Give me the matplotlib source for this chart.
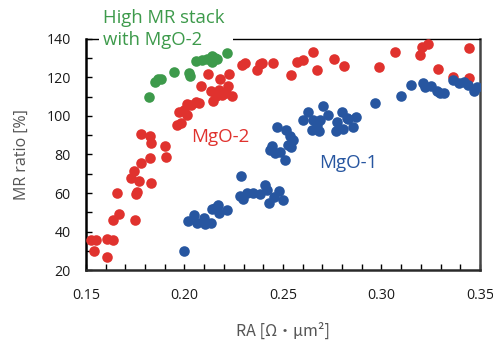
import matplotlib
matplotlib.use("Agg")
import matplotlib.pyplot as plt
from matplotlib.ticker import MultipleLocator
from matplotlib.patches import Rectangle

plt.rcParams['font.family'] = ['Open Sans', 'Noto Sans CJK JP', 'DejaVu Sans']

# ---- data ----
green_ra = [0.1820, 0.1850, 0.1868, 0.1881, 0.1947, 0.2025, 0.2030, 0.2058, 0.2089,
            0.2114, 0.2138, 0.2155, 0.2140, 0.2167, 0.2216]
green_mr = [110.1, 117.9, 119.0, 119.4, 122.6, 122.2, 120.8, 128.6, 129.1,
            129.4, 131.2, 130.1, 128.3, 129.4, 132.7]

red_ra = [0.1527, 0.1549, 0.1541, 0.1605, 0.1639, 0.1608, 0.1639, 0.1668, 0.1659,
          0.1747, 0.1727, 0.1744, 0.1769, 0.1752, 0.1760, 0.1828, 0.1781, 0.1825,
          0.1905, 0.1901, 0.1778, 0.1825, 0.1828,
          0.1960, 0.1980, 0.1972, 0.1997, 0.2014, 0.2034, 0.2057, 0.2074, 0.2011,
          0.2085, 0.2119, 0.2133, 0.2143, 0.2158, 0.2180, 0.2175, 0.2192, 0.2209,
          0.2226, 0.2221, 0.2240, 0.2163,
          0.2290, 0.2307, 0.2366, 0.2383, 0.2392, 0.2448, 0.2539, 0.2570, 0.2603,
          0.2651, 0.2671, 0.2759, 0.2810, 0.2989, 0.3068, 0.3195, 0.3204, 0.3238,
          0.3288, 0.3361, 0.3446, 0.3446]
red_mr = [35.6, 35.6, 30.0, 35.9, 35.6, 26.9, 46.0, 48.9, 59.8,
          46.0, 67.7, 71.2, 66.0, 59.5, 60.7, 65.4, 75.7, 78.4,
          78.9, 84.4, 90.5, 89.6, 85.8,
          95.2, 96.4, 102.1, 103.3, 106.2, 105.9, 107.3, 106.6, 100.5,
          115.4, 121.6, 112.8, 107.9, 110.2, 119.4, 113.7, 111.1, 112.0,
          121.6, 115.4, 110.2, 110.9,
          126.5, 127.7, 123.7, 127.0, 127.7, 127.4, 121.3, 128.2, 129.1,
          133.4, 123.7, 129.5, 126.0, 125.6, 133.4, 131.7, 135.7, 137.6,
          124.3, 120.1, 135.2, 119.6]

blue_ra = [0.1997, 0.2018, 0.2048, 0.2062, 0.2099, 0.2103, 0.2133, 0.2141, 0.2167,
           0.2175, 0.2217, 0.2155, 0.2171,
           0.2285, 0.2282, 0.2295, 0.2316, 0.2346, 0.2383, 0.2409, 0.2417, 0.2430,
           0.2454, 0.2481, 0.2498,
           0.2434, 0.2459, 0.2485, 0.2510, 0.2527, 0.2443, 0.2468, 0.2515, 0.2535,
           0.2552, 0.2542,
           0.2600, 0.2629, 0.2646, 0.2654, 0.2688, 0.2701, 0.2729, 0.2683, 0.2671,
           0.2769, 0.2772, 0.2798, 0.2806, 0.2832, 0.2857, 0.2871, 0.2827,
           0.2967, 0.3097, 0.3148, 0.3209, 0.3221, 0.3250, 0.3280, 0.3297, 0.3317,
           0.3361, 0.3395, 0.3419, 0.3441, 0.3470, 0.3486]
blue_mr = [30.0, 45.6, 48.6, 44.3, 46.9, 43.9, 44.6, 51.5, 52.6,
           49.5, 51.2, 52.0, 53.8,
           68.8, 58.4, 56.7, 59.8, 60.2, 59.5, 64.2, 61.6, 54.6,
           58.1, 61.2, 56.4,
           82.3, 80.8, 81.5, 77.1, 85.1, 84.2, 94.1, 92.9, 89.4,
           87.6, 84.0,
           97.9, 102.3, 92.7, 97.9, 97.9, 105.2, 100.5, 92.4, 95.2,
           92.4, 97.1, 102.3, 93.3, 98.4, 94.5, 99.3, 99.0,
           107.0, 110.2, 115.9, 117.1, 114.9, 115.4, 112.8, 111.9, 111.9,
           118.5, 117.3, 117.8, 116.3, 112.8, 114.9]

x_ticks = [0.15, 0.20, 0.25, 0.30, 0.35]
y_ticks = [20, 40, 60, 80, 100, 120, 140]

c_red = '#e0322e'
c_blue = '#2756a0'
c_green = '#3d9a4b'

W, H = 493, 342
fig = plt.figure(figsize=(W / 100, H / 100), dpi=100)
ax = fig.add_axes([0.1744, 0.2105, 0.7992, 0.6755])

ms = 58
ax.scatter(red_ra, red_mr, s=ms, color=c_red, linewidths=0, zorder=3)
ax.scatter(blue_ra, blue_mr, s=ms, color=c_blue, linewidths=0, zorder=3)
ax.scatter(green_ra, green_mr, s=ms, color=c_green, linewidths=0, zorder=4)

ax.set_xlim(0.15, 0.35)
ax.set_ylim(20, 140)
ax.set_xticks(x_ticks)
ax.set_xticklabels([f"{v:.2f}" for v in x_ticks])
ax.set_yticks(y_ticks)
ax.xaxis.set_minor_locator(MultipleLocator(0.01))
ax.yaxis.set_minor_locator(MultipleLocator(10))
ax.tick_params(which='both', direction='in', length=4, width=1.0,
               top=False, right=False, labelsize=10.2, labelcolor='#1a1a1a')
ax.tick_params(axis='x', pad=13)
ax.tick_params(axis='y', pad=11)

ax.spines['left'].set_linewidth(1.8)
ax.spines['left'].set_color('black')
ax.spines['bottom'].set_linewidth(1.8)
ax.spines['bottom'].set_color('#2a2a2a')
ax.spines['right'].set_linewidth(1.8)
ax.spines['right'].set_color('#444444')
ax.spines['top'].set_linewidth(1.0)
ax.spines['top'].set_color('black')

ax.set_xlabel('RA [Ω・μm²]', fontsize=11.5, color='#555555', labelpad=14,
              family=['Noto Sans CJK JP', 'DejaVu Sans'])
ax.set_ylabel('MR ratio [%]', fontsize=11.5, color='#555555', labelpad=12)

ax.text(0.2033, 89.1, 'MgO-2', color=c_red, fontsize=13.5, ha='left', va='center')
ax.text(0.2684, 75.4, 'MgO-1', color=c_blue, fontsize=13.5, ha='left', va='center')

# white background of the annotation box that hides part of the top frame
fig.patches.append(Rectangle((99 / W, 1 - 43 / H), 134 / W, 7 / H,
                             transform=fig.transFigure, facecolor='white',
                             edgecolor='none', zorder=5))
fig.text(103 / W, 1 - 23 / H, 'High MR stack', color=c_green,
         fontsize=13.3, ha='left', va='baseline', zorder=10)
fig.text(103 / W, 1 - 45 / H, 'with MgO-2', color=c_green,
         fontsize=13.3, ha='left', va='baseline', zorder=10)

fig.savefig('out.png', dpi=100)
